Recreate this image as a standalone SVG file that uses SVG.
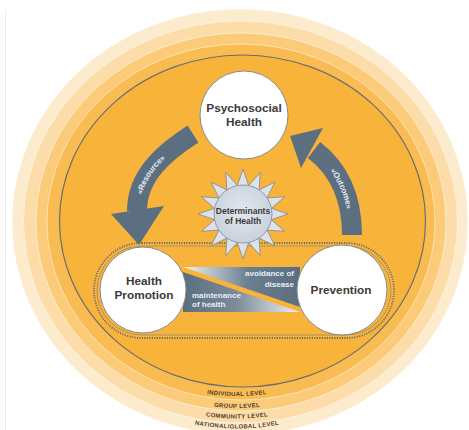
<svg xmlns="http://www.w3.org/2000/svg" width="469" height="430" viewBox="0 0 469 430">
<style>
.t{font-family:"Liberation Sans",Arial,sans-serif;font-weight:bold;}
.node{fill:#3a3a3a;font-size:11.8px;text-anchor:middle;}
.lvl{fill:#4e3e2a;font-size:6px;letter-spacing:0.3px;}
.band{fill:#e9eef2;font-size:8px;}
.arrlbl{fill:#e6ecf1;font-size:8px;}
.circ{fill:#fff;stroke:#8a8a8a;stroke-width:1;}
.ring{stroke:#fff;stroke-opacity:0.5;stroke-width:1;}
.arrow{fill:none;stroke:#5b6f81;stroke-width:20;}
.head{fill:#5b6f81;}
</style>
<defs>
<linearGradient id="gUp" x1="0" y1="0" x2="1" y2="0">
<stop offset="0" stop-color="#f4f4f4"/><stop offset="0.55" stop-color="#6c7f90"/><stop offset="1" stop-color="#5b6e80"/>
</linearGradient>
<linearGradient id="gLo" x1="0" y1="0" x2="1" y2="0">
<stop offset="0" stop-color="#5b6e80"/><stop offset="0.45" stop-color="#7a8b9a"/><stop offset="1" stop-color="#f2f2f2"/>
</linearGradient>
<radialGradient id="gSun" cx="0.5" cy="0.45" r="0.6">
<stop offset="0" stop-color="#e2e8ee"/><stop offset="1" stop-color="#c6d0da"/>
</radialGradient>
<path id="pRes" d="M 137 211 C 137 175 165 152 193 134"/>
<path id="pOut" d="M 314 150 C 340 170 352 200 352 235"/>
<path id="l1" d="M 137 371.96 A 220 220 0 0 0 337 371.96"/>
<path id="l2" d="M 137 383.96 A 220 220 0 0 0 337 383.96"/>
<path id="l3" d="M 137 394.46 A 220 220 0 0 0 337 394.46"/>
<path id="l4" d="M 137 404.46 A 220 220 0 0 0 337 404.46"/>
</defs>
<rect width="469" height="430" fill="#fff"/>
<line x1="5.5" y1="10" x2="5.5" y2="430" stroke="#ececec" stroke-width="1"/>

<g id="levels">
<ellipse class="ring" cx="240" cy="222" rx="228" ry="213" fill="#fdebcd"/>
<ellipse class="ring" cx="240.5" cy="222" rx="217" ry="201" fill="#fcdca8"/>
<ellipse class="ring" cx="241" cy="222" rx="205" ry="189" fill="#fbcb7a"/>
<ellipse class="ring" cx="241" cy="222" rx="194" ry="178" fill="#f9bc52"/>
<ellipse cx="242.5" cy="221" rx="183" ry="166" fill="#f8b33b" stroke="#6b6e70" stroke-width="1.2"/>
<text class="t lvl"><textPath href="#l1" startOffset="50%" text-anchor="middle">INDIVIDUAL LEVEL</textPath></text>
<text class="t lvl"><textPath href="#l2" startOffset="50%" text-anchor="middle">GROUP LEVEL</textPath></text>
<text class="t lvl"><textPath href="#l3" startOffset="50%" text-anchor="middle">COMMUNITY LEVEL</textPath></text>
<text class="t lvl"><textPath href="#l4" startOffset="50%" text-anchor="middle">NATIONAL/GLOBAL LEVEL</textPath></text>
</g>

<g id="frame">
<rect x="94" y="243" width="300" height="95" rx="47.5" fill="none" stroke="#6b6e70" stroke-width="1.8" stroke-dasharray="1.2 1.3"/>
<rect x="97" y="246" width="294" height="89" rx="44.5" fill="none" stroke="#7a7c7e" stroke-width="0.6"/>
</g>

<g id="balance">
<polygon points="183,267 300,267 300,307" fill="url(#gUp)"/>
<polygon points="183,272 183,312 300,312" fill="url(#gLo)"/>
<text class="t band" x="294" y="276" text-anchor="end">avoidance of</text>
<text class="t band" x="294" y="287" text-anchor="end">disease</text>
<text class="t band" x="192" y="298">maintenance</text>
<text class="t band" x="192" y="307">of health</text>
</g>

<g id="connectors">
<path class="arrow" d="M 193 134 C 165 152 137 175 137 211"/>
<polygon class="head" points="111,214 164,206 139,245"/>
<text class="t arrlbl" dy="2.8"><textPath href="#pRes" startOffset="40%" text-anchor="middle">«Resource»</textPath></text>
<path class="arrow" d="M 352 235 C 352 200 340 170 314 150"/>
<polygon class="head" points="323,128 301,168 290,136"/>
<text class="t arrlbl" dy="2.8"><textPath href="#pOut" startOffset="50%" text-anchor="middle">«Outcome»</textPath></text>
</g>

<g id="determinants">
<polygon points="243,169 248.66,185.56 260.22,172.42 259.11,189.89 274.82,182.18 267.11,197.89 284.58,196.78 271.44,208.34 288,214 271.44,219.66 284.58,231.22 267.11,230.11 274.82,245.82 259.11,238.11 260.22,255.58 248.66,242.44 243,259 237.34,242.44 225.78,255.58 226.89,238.11 211.18,245.82 218.89,230.11 201.42,231.22 214.56,219.66 198,214 214.56,208.34 201.42,196.78 218.89,197.89 211.18,182.18 226.89,189.89 225.78,172.42 237.34,185.56" fill="#dbe2e9" stroke="#80878e" stroke-width="0.8"/>
<circle cx="243" cy="214" r="29" fill="url(#gSun)" stroke="#80878e" stroke-width="0.8"/>
<text class="t" x="243" y="214" text-anchor="middle" font-size="8.5" fill="#3a3a3a">Determinants</text>
<text class="t" x="243" y="224" text-anchor="middle" font-size="8.5" fill="#3a3a3a">of Health</text>
</g>

<g id="psychosocial">
<circle class="circ" cx="244" cy="115" r="44"/>
<text class="t node" x="244" y="112">Psychosocial</text>
<text class="t node" x="244" y="126">Health</text>
</g>

<g id="promotion">
<circle class="circ" cx="143" cy="290" r="43"/>
<text class="t node" x="144" y="285">Health</text>
<text class="t node" x="144" y="299">Promotion</text>
</g>

<g id="prevention">
<circle class="circ" cx="342" cy="290" r="45"/>
<text class="t node" x="341" y="294">Prevention</text>
</g>
</svg>
